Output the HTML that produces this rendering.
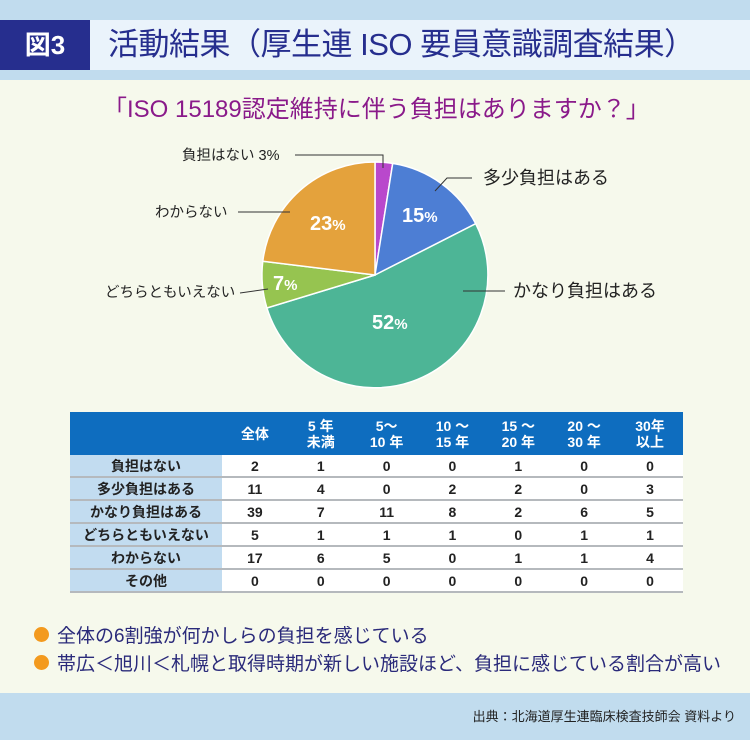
<!DOCTYPE html>
<html><head><meta charset="utf-8"><style>
body{margin:0;width:750px;height:740px;position:relative;overflow:hidden;background:#f6f9ec;font-family:"Liberation Sans","Noto Sans CJK JP",sans-serif}
.a{position:absolute}
table{border-collapse:collapse;position:absolute;left:70px;top:412px;width:613px;font-weight:bold;font-size:14px;color:#222;table-layout:fixed}
td{text-align:center;height:21px;padding:0;border-bottom:2px solid #b5b9bd;background:#fff}
td.l{background:#c2dcf0}
tr.h td{background:#0e6dbf;color:#fff;height:43px;border:none;line-height:16px}
.b{width:15px;height:15px;border-radius:50%;background:#f39a1e;position:absolute}
.t{position:absolute;font-size:19px;color:#2a2a7a;white-space:nowrap}
</style></head><body>
<div class="a" style="left:0;top:0;width:750px;height:80px;background:#c1dcee"></div>
<div class="a" style="left:90px;top:20px;width:660px;height:50px;background:#eaf3fb"></div>
<div class="a" style="left:0;top:20px;width:90px;height:50px;background:#262e8e;color:#fff;font-size:26px;line-height:50px;text-align:center;font-weight:bold">図3</div>
<div class="a" style="left:108px;top:20px;line-height:50px;font-size:31px;color:#262e8e;white-space:nowrap;letter-spacing:-0.5px">活動結果（厚生連 ISO 要員意識調査結果）</div>
<div class="a" style="left:103px;top:89px;font-size:24px;color:#8a1a8a;white-space:nowrap">「ISO 15189認定維持に伴う負担はありますか？」</div>
<svg class="a" style="left:0;top:0" width="750" height="400">
<g stroke="#fff" stroke-width="1.5">
<path d="M375 275 L375 162 A113 113 0 0 1 392.7 163.4Z" fill="#b948cc"/>
<path d="M375 275 L392.7 163.4 A113 113 0 0 1 475.7 223.7Z" fill="#4d7ed4"/>
<path d="M375 275 L475.7 223.7 A113 113 0 1 1 266.9 308Z" fill="#4db596"/>
<path d="M375 275 L266.9 308 A113 113 0 0 1 262.8 261.2Z" fill="#96c450"/>
<path d="M375 275 L262.8 261.2 A113 113 0 0 1 375 162Z" fill="#e4a23c"/>
</g>
<g stroke="#333" stroke-width="1" fill="none">
<path d="M295 155 H383 V168"/><path d="M435 191 L447 178 H472"/><path d="M463 291 H505"/><path d="M240 293 L268 289"/><path d="M238 212 H290"/>
</g>
<g fill="#fff" font-weight="bold" font-size="20" font-family="Liberation Sans,sans-serif">
<text x="402" y="222">15<tspan font-size="15">%</tspan></text>
<text x="310" y="230">23<tspan font-size="15">%</tspan></text>
<text x="273" y="290">7<tspan font-size="15">%</tspan></text>
<text x="372" y="329">52<tspan font-size="15">%</tspan></text>
</g>
<g font-size="14.5" fill="#222" font-family="Liberation Sans,Noto Sans CJK JP,sans-serif">
<text x="182" y="160">負担はない 3%</text>
<text x="483" y="184" font-size="18">多少負担はある</text>
<text x="513" y="297" font-size="18">かなり負担はある</text>
<text x="105" y="297">どちらともいえない</text>
<text x="155" y="217">わからない</text>
</g>
</svg>
<table>
<colgroup><col style="width:152px"><col><col><col><col><col><col><col></colgroup>
<tr class="h"><td style="background:#0e6dbf"></td><td>全体</td><td>5 年<br>未満</td><td>5〜<br>10 年</td><td>10 〜<br>15 年</td><td>15 〜<br>20 年</td><td>20 〜<br>30 年</td><td>30年<br>以上</td></tr>
<tr><td class="l">負担はない</td><td>2</td><td>1</td><td>0</td><td>0</td><td>1</td><td>0</td><td>0</td></tr>
<tr><td class="l">多少負担はある</td><td>11</td><td>4</td><td>0</td><td>2</td><td>2</td><td>0</td><td>3</td></tr>
<tr><td class="l">かなり負担はある</td><td>39</td><td>7</td><td>11</td><td>8</td><td>2</td><td>6</td><td>5</td></tr>
<tr><td class="l">どちらともいえない</td><td>5</td><td>1</td><td>1</td><td>1</td><td>0</td><td>1</td><td>1</td></tr>
<tr><td class="l">わからない</td><td>17</td><td>6</td><td>5</td><td>0</td><td>1</td><td>1</td><td>4</td></tr>
<tr><td class="l">その他</td><td>0</td><td>0</td><td>0</td><td>0</td><td>0</td><td>0</td><td>0</td></tr>
</table>
<div class="b" style="left:34px;top:627px"></div>
<div class="t" style="left:57px;top:621px">全体の6割強が何かしらの負担を感じている</div>
<div class="b" style="left:34px;top:655px"></div>
<div class="t" style="left:57px;top:649px">帯広＜旭川＜札幌と取得時期が新しい施設ほど、負担に感じている割合が高い</div>
<div class="a" style="left:0;top:693px;width:750px;height:47px;background:#c1dcee"></div>
<div class="a" style="right:14px;top:706px;font-size:13px;color:#222;white-space:nowrap">出典：北海道厚生連臨床検査技師会 資料より</div>
</body></html>
